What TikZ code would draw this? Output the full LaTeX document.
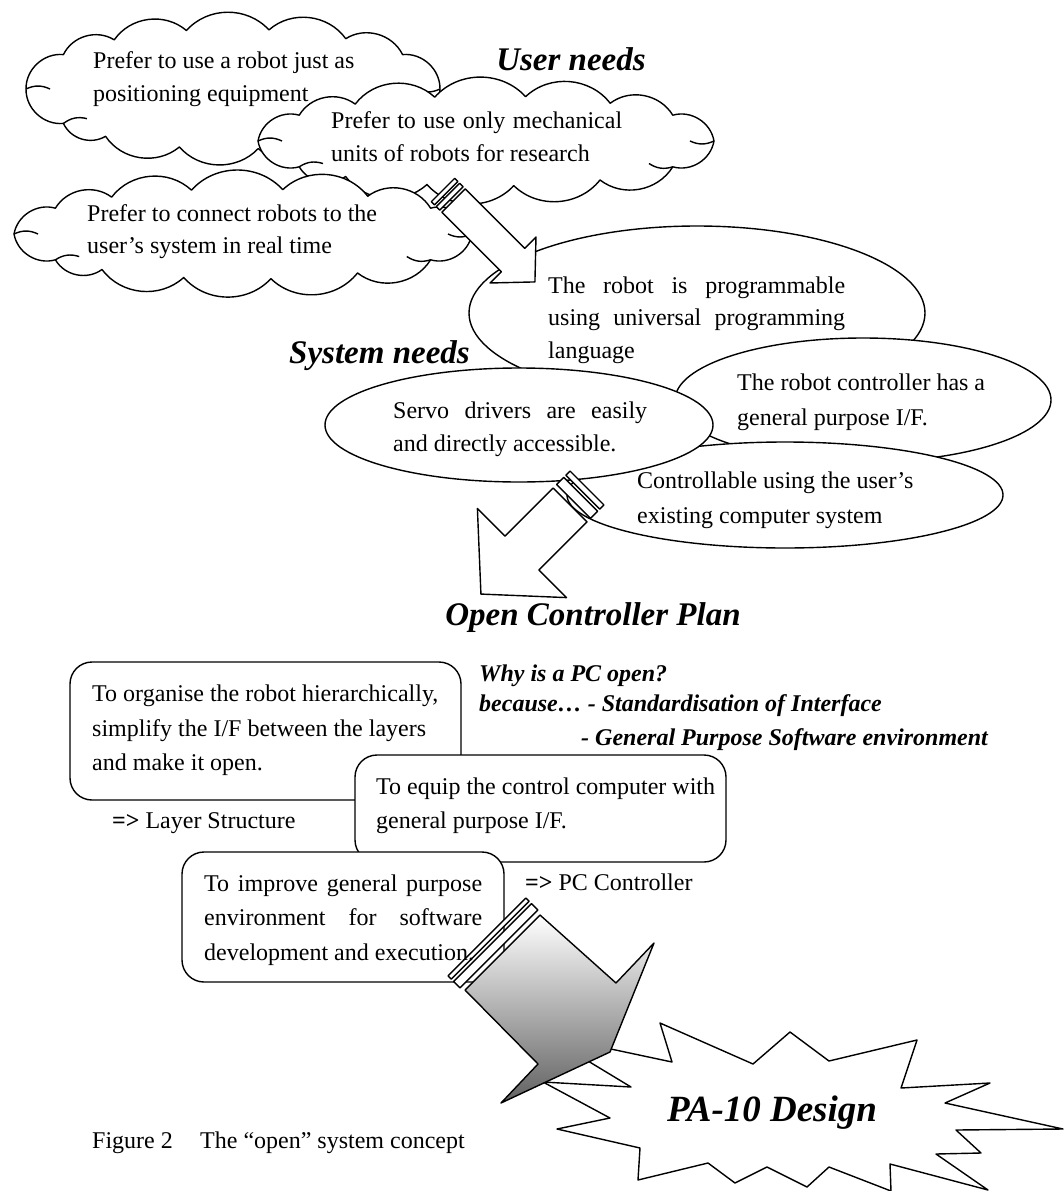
\documentclass[tikz,border=0pt]{standalone}
\usepackage{fontspec}
\setmainfont{Liberation Serif}
\usetikzlibrary{calc,shapes.geometric}
\newcommand\mkcloud[5]{\foreach \a [count=\k] in {0,35,60,83,105,128,145,180,215,235,257,280,303,325} {\coordinate (#1-\k) at ($(#2,#3)+(\a:#4 and #5)$);}}
\begin{document}
\begin{tikzpicture}[x=1pt,y=-1pt,line join=round,
  xshp/.style={draw=black,fill=white,line width=1.4pt},
  xpuff/.style={bend left=48,looseness=1},
  xhook/.style={line width=1.4pt},
  xbody/.style={font=\fontsize{24}{33}\selectfont,inner sep=0pt,anchor=base west},
  xhead/.style={font=\fontsize{33}{40}\selectfont\bfseries\itshape,inner sep=0pt,anchor=base},
  xsub/.style={font=\fontsize{24}{33}\selectfont\bfseries\itshape,inner sep=0pt,anchor=base west},
  xbig/.style={font=\fontsize{37}{44}\selectfont\bfseries\itshape,inner sep=0pt,anchor=base},
  xell/.style={xshp,ellipse,inner sep=0pt},
  xbox/.style={xshp,rounded corners=22pt,inner sep=0pt}]
\useasboundingbox (0,0) rectangle (1063,1191);
\fill[white] (0,0) rectangle (1063,1191);

% ---- clouds (user needs)
\mkcloud{ca}{233}{89}{207}{60}
\path[xshp] (ca-1) \foreach \k in {2,...,14}{to[xpuff] (ca-\k)} to[xpuff] (ca-1);
\foreach \k in {1,2,7,8}{\draw[xhook] (ca-\k) to[bend left=25] ($(ca-\k)!24pt!(233,89)$);}

\mkcloud{cb}{486}{141}{228}{45}
\path[xshp] (cb-1) \foreach \k in {2,...,14}{to[xpuff] (cb-\k)} to[xpuff] (cb-1);
\foreach \k in {1,2,7,8}{\draw[xhook] (cb-\k) to[bend left=25] ($(cb-\k)!24pt!(486,141)$);}

\mkcloud{cc}{243}{234}{229}{45}
\path[xshp] (cc-1) \foreach \k in {2,...,14}{to[xpuff] (cc-\k)} to[xpuff] (cc-1);
\foreach \k in {1,2,7,8}{\draw[xhook] (cc-\k) to[bend left=25] ($(cc-\k)!24pt!(243,234)$);}

% ---- ellipses (system needs)
\node[xell,minimum width=456pt,minimum height=174pt] (eA) at (697,313) {};

% arrow 1
\begin{scope}[shift={(443,190)},rotate=-45]
  \draw[xshp] (0,-16.5) rectangle (4.5,16.5);
  \draw[xshp] (7,-16.5) rectangle (12,16.5);
  \draw[xshp] (15,-16.5) -- (99,-16.5) -- (99,-32.5) -- (130,0) -- (99,32.5) -- (99,16.5) -- (15,16.5) -- cycle;
\end{scope}

\node[xell,minimum width=376pt,minimum height=124pt] (eC) at (863,400) {};
\node[xell,minimum width=436pt,minimum height=106pt] (eD) at (785,495) {};
\node[xell,minimum width=388pt,minimum height=114pt] (eB) at (519,425) {};

% arrow 2
\begin{scope}[shift={(587,488)},rotate=225]
  \draw[xshp] (0,-24) rectangle (6,24);
  \draw[xshp] (9,-24) rectangle (19,24);
  \draw[xshp] (24,-24) -- (92,-24) -- (92,-63) -- (150,0) -- (92,63) -- (92,24) -- (24,24) -- cycle;
\end{scope}

% ---- rounded boxes
\node[xbox,minimum width=391pt,minimum height=138pt] (bx1) at (265.5,731) {};
\node[xbox,minimum width=371pt,minimum height=107pt] (bx2) at (540.5,808.5) {};
\node[xbox,minimum width=322pt,minimum height=130pt] (bx3) at (343,917) {};

% ---- starburst
\path[xshp] (545,1035) -- (672,1062) -- (660,1023) -- (753,1064) -- (790,1032) -- (829,1061)
  -- (917,1040) -- (901,1088) -- (990,1083) -- (945,1103) -- (1063,1129) -- (956,1130)
  -- (981,1153) -- (936,1154) -- (988,1190) -- (890,1164) -- (891,1191) -- (829,1167)
  -- (807,1187) -- (767,1167) -- (735,1183) -- (708,1163) -- (638,1180) -- (640,1148)
  -- (557,1129) -- (610,1118) -- (543,1082) -- (631,1087) -- cycle;

% arrow 3
\begin{scope}[shift={(502.5,952.5)},rotate=-45]
  \draw[xshp] (-22,-55) rectangle (-17.5,55);
  \draw[xshp] (-14,-55) rectangle (-5,55);
\end{scope}
\path[draw=black,line width=1.4pt,top color=white,middle color=black!5,bottom color=black!62]
  (540,915) -- (616,983) -- (654,943) -- (610,1052) -- (501,1103) -- (538,1064) -- (465,990) -- cycle;

% ---- texts
\node[xbody] (t1a) at (93,68) {Prefer to use a robot just as};
\node[xbody] (t1b) at (93,101) {positioning equipment};
\node[xbody] (t2a) at (331,128) {\makebox[291pt][s]{Prefer to use only mechanical}};
\node[xbody] (t2b) at (331,161) {units of robots for research};
\node[xbody] (t3a) at (87,221) {Prefer to connect robots to the};
\node[xbody] (t3b) at (87,253) {user’s system in real time};
\node[xhead] (hUser) at (571,70) {User needs};

\node[xbody] (tAa) at (548,293) {\makebox[297pt][s]{The robot is programmable}};
\node[xbody] (tAb) at (548,325) {\makebox[297pt][s]{using universal programming}};
\node[xbody] (tAc) at (548,358) {language};
\node[xhead,anchor=base east] (hSys) at (470,363) {System needs};
\node[xbody] (tBa) at (393,418) {\makebox[254pt][s]{Servo drivers are easily}};
\node[xbody] (tBb) at (393,451) {and directly accessible.};
\node[xbody] (tCa) at (737,390) {The robot controller has a};
\node[xbody] (tCb) at (737,425) {general purpose I/F.};
\node[xbody] (tDa) at (637,488) {Controllable using the user’s};
\node[xbody] (tDb) at (637,523) {existing computer system};

\node[xhead] (hOpen) at (593,625) {Open Controller Plan};
\node[xsub] (why) at (479,681) {Why is a PC open?};
\node[xsub] (bec) at (479,711) {because… - Standardisation of Interface};
\node[xsub] (gps) at (581,745) {- General Purpose Software environment};

\node[xbody] (b1a) at (92,701) {To organise the robot hierarchically,};
\node[xbody] (b1b) at (92,736) {simplify the I/F between the layers};
\node[xbody] (b1c) at (92,770) {and make it open.};
\node[xbody] (lay) at (112,828) {\textbf{=>} Layer Structure};
\node[xbody] (b2a) at (376,794) {To equip the control computer with};
\node[xbody] (b2b) at (376,828) {general purpose I/F.};
\node[xbody] (b3a) at (204,891) {\makebox[278pt][s]{To improve general purpose}};
\node[xbody] (b3b) at (204,925) {\makebox[278pt][s]{environment for software}};
\node[xbody] (b3c) at (204,960) {development and execution.};
\node[xbody] (pcc) at (525,890) {\textbf{=>} PC Controller};

\node[xbig] (pa) at (772,1121) {PA-10 Design};
\node[xbody] (cap1) at (92,1148) {Figure 2};
\node[xbody] (cap2) at (200,1148) {The “open” system concept};
\end{tikzpicture}
\end{document}
